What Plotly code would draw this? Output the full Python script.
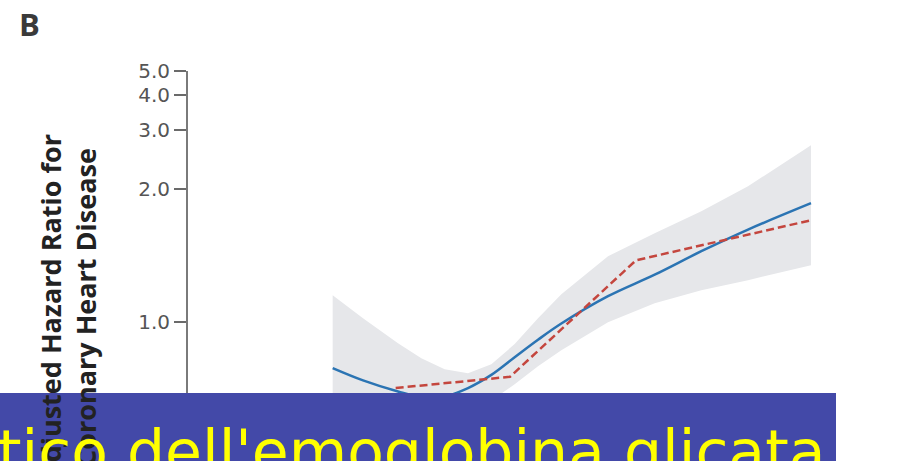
import numpy as np
import plotly.graph_objects as go

# Baseline glycated hemoglobin (%) at which the spline and its 95% CI are drawn
hba1c = [4.62, 4.75, 4.9, 5.0, 5.1, 5.2, 5.3, 5.4, 5.5, 5.6, 5.8, 6.0, 6.2, 6.4, 6.67]
hr_spline = [0.824, 0.785, 0.752, 0.736, 0.738, 0.762, 0.802, 0.861, 0.926, 0.993,
             1.124, 1.246, 1.403, 1.576, 1.834]
ci_upper = [1.129, 1.016, 0.912, 0.857, 0.820, 0.807, 0.837, 0.909, 1.016, 1.134,
            1.367, 1.545, 1.749, 2.034, 2.680]
ci_lower = [0.629, 0.634, 0.640, 0.652, 0.671, 0.696, 0.727, 0.773, 0.830, 0.886,
            0.999, 1.088, 1.156, 1.213, 1.306]

# Hazard ratios by glycated-hemoglobin category (category medians)
cat_hba1c = [4.89, 5.38, 5.92, 6.67]
cat_hr = [0.762, 0.796, 1.339, 1.661]

tick_values = [1.0, 2.0, 3.0, 4.0, 5.0]
tick_labels = ["1.0", "2.0", "3.0", "4.0", "5.0"]

y_floor = 0.586  # lowest hazard ratio of the visible axis window


def hr_scale(v):
    """Compressed hazard-ratio scale used for the vertical axis."""
    return 1.0 - np.asarray(v, dtype=float) ** -0.5


W, H = 905, 461
ML, MR, MT, MB = 188, 17, 71, 0
PW, PH = W - ML - MR, H - MT - MB


def px(x):
    return (x - ML) / PW


def py(y):
    return (H - MB - y) / PH


fig = go.Figure()

fig.add_trace(go.Scatter(x=hba1c, y=hr_scale(ci_lower), mode="lines",
                         line=dict(width=0), hoverinfo="skip", showlegend=False))
fig.add_trace(go.Scatter(x=hba1c, y=hr_scale(ci_upper), mode="lines",
                         line=dict(width=0), fill="tonexty",
                         fillcolor="#E6E7EA", hoverinfo="skip", showlegend=False))
fig.add_trace(go.Scatter(x=hba1c, y=hr_scale(hr_spline), mode="lines",
                         line=dict(color="#2B74B3", width=2.5, shape="spline"),
                         showlegend=False))
fig.add_trace(go.Scatter(x=cat_hba1c, y=hr_scale(cat_hr), mode="lines",
                         line=dict(color="#C4463E", width=2.5, dash="8px,4px"),
                         showlegend=False))

fig.update_xaxes(range=[4.0, 7.0], visible=False)
fig.update_yaxes(
    range=[float(hr_scale(y_floor)), float(hr_scale(5.0))],
    tickmode="array", tickvals=hr_scale(tick_values).tolist(), ticktext=tick_labels,
    ticks="outside", ticklen=12, tickwidth=1.5, tickcolor="#6A6A6A",
    showline=True, linecolor="#7A7A7A", linewidth=2,
    showgrid=False, zeroline=False,
    tickfont=dict(family="DejaVu Sans", size=20, color="#555555"),
)

# Panel letter
fig.add_annotation(text="<b>B</b>", xref="paper", yref="paper",
                   x=px(17), y=py(1), xanchor="left", yanchor="top",
                   showarrow=False,
                   font=dict(family="Open Sans", size=31, color="#3A3A3A"))

# Vertical axis title
fig.add_annotation(text="<b>Adjusted Hazard Ratio for<br>Coronary Heart Disease</b>",
                   xref="paper", yref="paper", x=px(68), y=py(308),
                   xanchor="center", yanchor="middle", textangle=-90,
                   showarrow=False,
                   font=dict(family="Open Sans", size=27, color="#222222"))

# Caption banner
fig.add_shape(type="rect", xref="paper", yref="paper",
              x0=px(-5), x1=px(836), y0=py(470), y1=py(393),
              fillcolor="#4349A8", line=dict(width=0), layer="above")
fig.add_annotation(text="tico dell'emoglobina glicata", xref="paper", yref="paper",
                   x=px(-4), y=py(452), xanchor="left", yanchor="middle",
                   showarrow=False,
                   font=dict(family="DejaVu Sans", size=60, color="#FFFF00"))

fig.update_layout(width=W, height=H, margin=dict(l=ML, r=MR, t=MT, b=MB),
                  paper_bgcolor="white", plot_bgcolor="white")

fig.write_html("out.html")
